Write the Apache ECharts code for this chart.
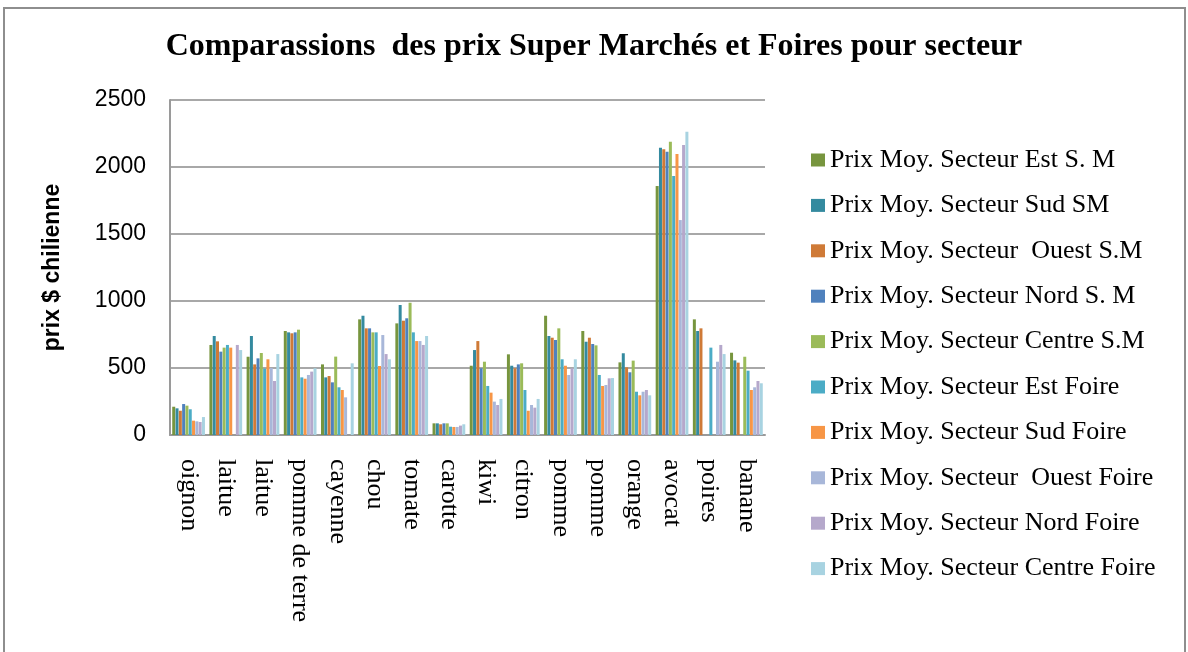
<!DOCTYPE html>
<html>
<head>
<meta charset="utf-8">
<script src="https://cdn.jsdelivr.net/npm/echarts@6/dist/echarts.min.js"></script>
<style>
  html, body { margin: 0; padding: 0; background: #ffffff; }
  #chart { width: 1188px; height: 652px; }
</style>
</head>
<body>
<div id="chart"></div>
<script>
// Produits relevés
const categories = ['oignon', 'laitue', 'laitue', 'pomme de terre', 'cayenne', 'chou', 'tomate', 'carotte',
  'kiwi', 'citron', 'pomme', 'pomme', 'orange', 'avocat', 'poires', 'banane'];

// Prix moyens (pesos chiliens) par secteur — null : pas de relevé
const estSM    = [211, 672, 584, 776, 527, 863, 833, 87, 517, 602, 890, 776, 542, 1858, 863, 614];
const sudSM    = [199, 739, 739, 766, 430, 890, 970, 87, 634, 517, 739, 696, 610, 2144, 776, 557];
const ouestSM  = [181, 699, 527, 759, 440, 796, 853, 80, 701, 498, 726, 726, 505, 2132, 796, 540];
const nordSM   = [231, 622, 572, 766, 393, 796, 871, 87, 498, 527, 709, 679, 468, 2114, null, null];
const centreSM = [219, 652, 612, 786, 585, 766, 987, 87, 547, 535, 796, 669, 555, 2189, null, 584];
const estF     = [192, 672, 495, 430, 356, 766, 766, 62, 366, 336, 565, 448, 323, 1933, 652, 480];
const sudF     = [107, 652, 565, 420, 336, 515, 701, 60, 316, 181, 517, 366, 296, 2097, null, 336];
const ouestF   = [102, null, 500, 448, 281, 746, 701, 60, 249, 224, 448, 373, 323, 1604, 547, 356];
const nordF    = [97, 672, 403, 473, null, 604, 672, 70, 224, 204, 498, 423, 336, 2164, 672, 403];
const centreF  = [134, 634, 604, 498, 535, 565, 739, 80, 269, 269, 565, 425, 296, 2263, 604, 386];

const seriesNames = [
  'Prix Moy. Secteur Est S. M',
  'Prix Moy. Secteur Sud SM',
  'Prix Moy. Secteur  Ouest S.M',
  'Prix Moy. Secteur Nord S. M',
  'Prix Moy. Secteur Centre S.M',
  'Prix Moy. Secteur Est Foire',
  'Prix Moy. Secteur Sud Foire',
  'Prix Moy. Secteur  Ouest Foire',
  'Prix Moy. Secteur Nord Foire',
  'Prix Moy. Secteur Centre Foire'
];
const seriesData = [estSM, sudSM, ouestSM, nordSM, centreSM, estF, sudF, ouestF, nordF, centreF];
const colors = ['#77953e', '#348a9f', '#cf7a37', '#4f81bd', '#9bbb59',
  '#4bacc6', '#f79646', '#a8b7d9', '#b5a8cb', '#a8d3e1'];

const yTicks = [0, 500, 1000, 1500, 2000, 2500];

const chart = echarts.init(document.getElementById('chart'), null, { renderer: 'canvas' });

chart.setOption({
  backgroundColor: '#ffffff',
  animation: false,
  color: colors,
  title: {
    text: 'Comparassions  des prix Super Marchés et Foires pour secteur',
    left: 'center',
    top: 26,
    textStyle: {
      fontFamily: 'Liberation Serif',
      fontWeight: 'bold',
      fontSize: 32,
      color: '#000000'
    }
  },
  graphic: [{
    type: 'rect',
    shape: { x: 4, y: 8, width: 1181, height: 700 },
    style: { fill: 'none', stroke: '#8e8e8e', lineWidth: 2 },
    silent: true
  }],
  legend: {
    orient: 'vertical',
    left: 806,
    top: 142,
    itemWidth: 14,
    itemHeight: 13,
    itemGap: 19.4,
    icon: 'rect',
    textStyle: {
      fontFamily: 'Liberation Serif',
      fontSize: 26,
      lineHeight: 26,
      color: '#000000'
    },
    data: seriesNames
  },
  grid: {
    left: 170,
    right: 423,
    top: 100,
    bottom: 217,
    containLabel: false
  },
  xAxis: {
    type: 'category',
    data: categories,
    axisLine: { show: true, lineStyle: { color: '#9a9a9a', width: 2 } },
    axisTick: { show: false },
    axisLabel: {
      rotate: -90,
      margin: 24,
      interval: 0,
      fontFamily: 'Liberation Serif',
      fontSize: 26,
      color: '#000000'
    }
  },
  yAxis: {
    type: 'value',
    min: yTicks[0],
    max: yTicks[yTicks.length - 1],
    interval: 500,
    name: 'prix $ chilienne',
    nameLocation: 'middle',
    nameGap: 106,
    nameRotate: 90,
    nameTextStyle: {
      fontFamily: 'Liberation Sans',
      fontWeight: 'bold',
      fontSize: 23,
      color: '#000000'
    },
    axisLine: { show: true, lineStyle: { color: '#9a9a9a', width: 2 } },
    axisTick: { show: false },
    splitLine: { show: true, lineStyle: { color: '#a8a8a8', width: 2 } },
    axisLabel: {
      margin: 24,
      fontFamily: 'Liberation Sans',
      fontSize: 23,
      color: '#000000',
      formatter: (v) => String(v)
    }
  },
  series: seriesNames.map((name, i) => ({
    name: name,
    type: 'bar',
    data: seriesData[i],
    barGap: '10%',
    barCategoryGap: '12%',
    itemStyle: { color: colors[i] }
  }))
});
</script>
</body>
</html>
